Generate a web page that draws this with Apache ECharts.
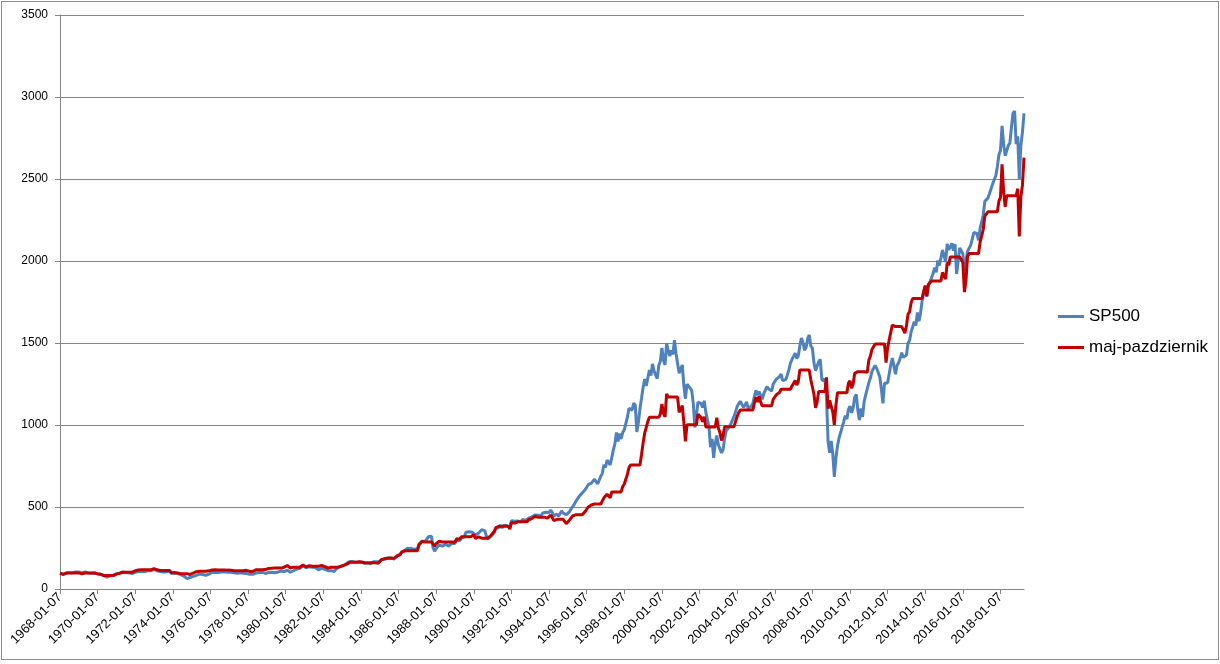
<!DOCTYPE html>
<html><head><meta charset="utf-8">
<script src="https://cdn.jsdelivr.net/npm/echarts@6/dist/echarts.min.js"></script>
<style>
html,body{margin:0;padding:0;background:#fff}
#c{width:1220px;height:664px}
#frame{position:absolute;left:1px;top:1px;width:1216px;height:657px;border:1px solid #8c8c8c;pointer-events:none}
</style>
</head><body>
<div id="c"></div><div id="frame"></div>
<script>
// Monthly samples (the 7th of each month), January 1968 to April 2019
const startYear = 1968;
const seriesNames = ['SP500', 'maj-pazdziernik'];

const sp500 = [
96.5,92.2,89.4,90.2,97.5,98.7,99.6,97.7,98.9,102.7,103.4,108.4,
103.9,103.0,98.1,101.5,103.7,103.5,97.7,91.8,95.5,93.1,97.2,93.8,
92.1,85.0,89.5,89.6,81.5,76.6,72.7,78.1,81.5,84.3,83.3,87.2,
92.2,95.9,97.0,100.3,103.9,99.6,99.7,95.6,99.0,98.3,94.2,94.0,
102.1,103.9,106.6,107.2,107.7,109.5,107.1,107.4,111.1,110.6,111.6,116.7,
118.1,116.0,111.7,111.5,107.0,105.0,104.3,108.2,104.3,108.4,108.3,96.0,
97.6,96.6,96.2,94.0,90.3,87.3,86.0,79.3,72.2,63.5,73.9,70.0,
68.6,77.0,81.6,83.4,87.3,91.2,95.2,88.8,86.9,83.9,89.0,91.2,
90.2,100.9,99.7,102.8,101.6,100.2,104.3,103.4,102.9,105.2,102.9,102.1,
107.5,102.0,99.8,98.4,98.4,96.1,100.5,98.9,96.8,96.5,92.3,94.8,
95.1,89.3,87.0,89.2,97.0,97.2,95.5,100.7,103.3,102.5,93.2,94.7,
96.1,99.9,96.3,101.6,101.8,99.1,102.9,103.8,109.3,109.3,101.8,106.2,
107.9,114.2,113.7,102.1,106.3,111.2,114.2,121.7,122.4,125.5,127.5,140.5,
135.8,129.6,131.3,136.0,132.8,132.6,131.2,130.9,122.8,116.2,121.9,126.4,
122.6,120.4,113.1,112.0,116.4,111.9,109.6,107.1,119.5,120.4,133.7,138.5,
140.6,145.3,148.1,153.0,164.4,162.4,168.1,162.6,164.4,166.1,163.6,166.4,
164.9,163.4,157.1,159.2,160.1,150.6,153.2,150.7,166.7,166.1,166.1,163.6,
167.2,179.6,181.2,180.7,179.8,189.6,191.9,190.9,188.6,182.1,189.8,202.2,
211.3,211.8,226.9,238.9,235.5,247.4,250.8,236.1,252.9,231.3,244.0,249.2,
242.2,274.1,284.2,291.7,288.4,290.1,304.0,318.7,329.8,321.8,251.8,230.3,
247.1,257.1,267.8,258.9,261.3,262.2,273.5,272.0,261.5,271.9,279.0,273.7,
277.7,297.5,288.9,294.9,309.6,320.5,318.0,346.1,351.5,349.2,340.4,346.0,
353.4,329.1,331.9,339.9,330.8,361.2,358.0,356.2,322.6,306.1,304.0,322.2,
330.2,343.9,367.1,375.2,375.4,389.8,371.2,387.8,395.4,387.9,392.5,375.2,
417.1,408.8,412.7,403.7,415.0,415.4,408.1,424.2,414.0,417.8,418.7,431.4,
435.7,438.8,443.4,451.7,440.2,450.2,450.5,448.1,463.6,458.9,467.8,461.8,
466.5,481.6,467.1,445.8,450.9,456.5,444.3,458.3,475.5,462.7,472.4,453.7,
459.3,470.4,487.4,500.7,514.7,533.4,544.8,562.1,561.9,584.4,581.5,605.4,
615.9,636.0,640.4,645.5,654.2,669.1,670.6,640.0,652.0,687.3,705.3,757.0,
740.7,786.2,790.8,757.1,801.3,848.3,885.1,954.3,899.5,947.3,914.6,955.4,
970.4,980.3,1049.3,1101.8,1111.8,1090.8,1133.8,1120.7,957.3,1017.0,1098.7,1163.6,
1229.2,1279.6,1238.3,1286.4,1335.2,1301.8,1372.7,1328.7,1320.4,1282.7,1362.9,1388.9,
1469.3,1394.5,1366.4,1498.6,1452.4,1420.6,1454.6,1430.8,1517.7,1436.5,1429.4,1315.2,
1320.3,1366.0,1239.9,1160.3,1249.5,1256.0,1224.4,1211.2,1133.6,985.0,1059.8,1139.5,
1148.1,1130.2,1106.7,1147.4,1076.9,1067.1,989.8,865.0,916.1,800.0,885.8,936.3,
879.8,855.7,830.0,848.2,916.9,963.6,974.5,990.3,1008.0,996.0,1050.7,1058.2,
1111.9,1131.1,1144.9,1126.2,1107.3,1120.7,1140.8,1101.7,1104.2,1114.6,1130.2,1173.8,
1211.9,1181.3,1203.6,1180.6,1156.9,1191.5,1191.3,1234.2,1220.3,1228.8,1207.0,1249.5,
1248.3,1280.1,1280.7,1294.9,1310.6,1270.1,1270.2,1276.7,1303.8,1335.9,1377.9,1400.6,
1418.3,1438.2,1406.8,1420.9,1482.4,1530.6,1503.4,1455.3,1474.0,1526.8,1549.4,1481.1,
1468.4,1378.6,1330.6,1322.7,1385.6,1400.4,1280.0,1267.4,1282.8,1166.4,900.0,830.0,
903.3,825.9,683.0,797.9,872.8,919.1,919.3,987.5,1020.6,1057.1,1036.2,1095.6,
1115.1,1073.9,1104.5,1169.4,1186.7,1089.4,1030.7,1101.6,1049.3,1141.2,1183.3,1180.6,
1257.6,1286.1,1327.2,1325.8,1363.6,1345.2,1320.6,1292.3,1218.9,1131.4,1253.3,1247.0,
1257.6,1312.4,1365.7,1408.5,1397.9,1310.3,1362.2,1379.3,1406.6,1440.7,1412.2,1416.2,
1426.2,1498.1,1514.7,1569.2,1597.6,1630.7,1606.3,1685.7,1633.0,1681.6,1756.5,1805.8,
1848.4,1782.6,1859.5,1872.3,1884.0,1923.6,1960.2,1930.7,2003.4,1972.3,2018.1,2067.6,
2058.9,1995.0,2104.5,2067.9,2085.5,2107.4,2063.1,2103.8,1921.0,1920.0,2079.4,2080.4,
2043.9,1940.2,1932.2,2059.7,2065.3,2097.0,2098.9,2173.6,2171.0,2168.3,2126.2,2198.8,
2238.8,2278.9,2363.6,2362.7,2384.2,2411.8,2423.4,2470.3,2471.7,2519.4,2575.3,2647.6,
2673.6,2823.8,2713.8,2640.9,2648.1,2705.3,2718.4,2816.3,2901.5,2914.0,2711.7,2760.2,
2500.0,2704.1,2784.5,2900.0
];

const majPazdziernik = [
96.5,92.2,89.4,90.2,97.5,97.5,97.5,97.5,97.5,97.5,97.5,102.2,
98.0,97.1,92.5,95.7,97.8,97.8,97.8,97.8,97.8,97.8,97.8,94.4,
92.7,85.5,90.1,90.2,82.0,82.0,82.0,82.0,82.0,82.0,82.0,85.8,
90.8,94.4,95.5,98.7,102.3,102.3,102.3,102.3,102.3,102.3,102.3,102.1,
110.9,112.8,115.8,116.4,117.0,117.0,117.0,117.0,117.0,117.0,117.0,122.3,
123.8,121.6,117.1,116.9,112.2,112.2,112.2,112.2,112.2,112.2,112.2,99.5,
101.1,100.1,99.7,97.4,93.6,93.6,93.6,93.6,93.6,93.6,93.6,88.7,
86.9,97.5,103.4,105.6,108.0,108.0,108.0,108.0,108.0,108.0,108.0,110.7,
109.5,116.0,114.5,117.5,116.0,116.0,116.0,116.0,116.0,116.0,116.0,115.1,
121.2,115.0,112.5,110.9,111.0,111.0,111.0,111.0,111.0,111.0,111.0,114.0,
114.4,107.4,104.6,107.3,116.7,116.7,116.7,116.7,116.7,116.7,116.7,118.6,
120.3,125.1,120.6,127.2,127.5,127.5,127.5,127.5,127.5,127.5,127.5,133.0,
135.1,143.0,142.4,127.9,133.1,133.1,133.1,133.1,133.1,133.1,133.1,146.7,
141.8,135.3,137.1,142.0,138.6,138.6,138.6,138.6,138.6,138.6,138.6,143.7,
139.4,136.9,128.6,127.3,132.4,132.4,132.4,132.4,132.4,132.4,132.4,137.2,
139.2,143.9,146.7,151.5,162.8,162.8,162.8,162.8,162.8,162.8,162.8,165.6,
164.1,162.6,156.3,158.4,159.3,159.3,159.3,159.3,159.3,159.3,159.3,156.9,
163.0,178.0,183.0,185.0,187.6,187.6,187.6,187.6,187.6,187.6,187.6,199.9,
208.9,209.3,224.3,236.1,232.8,232.8,232.8,232.8,232.8,232.8,232.8,238.0,
233.0,268.0,280.0,290.0,287.0,287.0,287.0,287.0,287.0,287.0,287.0,262.0,
276.0,284.0,292.0,284.0,287.0,287.0,287.0,287.0,287.0,287.0,287.0,281.5,
285.7,306.0,297.2,303.4,318.5,318.5,318.5,318.5,318.5,318.5,318.5,323.8,
330.7,307.9,310.5,318.0,309.5,309.5,309.5,309.5,309.5,309.5,309.5,328.0,
336.2,350.1,373.8,382.0,382.2,382.2,382.2,382.2,382.2,382.2,382.2,365.3,
406.2,398.1,401.9,393.1,410.0,410.0,410.0,410.0,410.0,410.0,410.0,422.4,
426.6,429.7,434.2,442.3,438.0,438.0,438.0,438.0,438.0,438.0,438.0,432.4,
436.8,450.9,437.3,417.4,425.0,425.0,425.0,425.0,425.0,425.0,425.0,398.0,
410.0,420.0,432.0,445.0,452.0,452.0,452.0,452.0,452.0,452.0,452.0,472.0,
482.0,500.0,506.0,512.0,518.0,518.0,518.0,518.0,518.0,518.0,518.0,556.0,
544.0,577.4,580.8,556.0,592.0,592.0,592.0,592.0,592.0,592.0,592.0,625.0,
640.0,650.0,700.0,740.0,756.0,756.0,756.0,756.0,756.0,756.0,756.0,820.0,
890.0,950.0,960.0,1020.0,1047.0,1047.0,1047.0,1047.0,1047.0,1047.0,1047.0,1067.0,
1128.8,1071.3,1049.7,1190.0,1170.0,1170.0,1170.0,1170.0,1170.0,1170.0,1170.0,1076.5,
1080.7,1118.1,1014.9,900.0,1002.0,1002.0,1002.0,1002.0,1002.0,1002.0,1002.0,1065.0,
1062.0,1045.0,1020.0,1050.0,988.0,988.0,988.0,988.0,988.0,988.0,988.0,1044.0,
981.3,954.4,905.0,935.0,990.0,990.0,990.0,990.0,990.0,990.0,990.0,997.0,
1052.0,1075.0,1092.0,1085.0,1091.0,1091.0,1091.0,1091.0,1091.0,1091.0,1091.0,1133.1,
1169.9,1140.3,1175.0,1139.7,1117.0,1117.0,1117.0,1117.0,1117.0,1117.0,1117.0,1156.3,
1155.2,1184.6,1185.2,1198.3,1218.0,1218.0,1218.0,1218.0,1218.0,1218.0,1218.0,1238.1,
1253.7,1271.3,1243.6,1265.0,1335.0,1335.0,1335.0,1335.0,1335.0,1335.0,1335.0,1276.1,
1265.2,1187.8,1105.0,1139.7,1205.0,1205.0,1205.0,1205.0,1205.0,1290.0,1100.0,1150.0,
1160.0,1080.0,1000.0,1120.0,1197.0,1197.0,1197.0,1197.0,1197.0,1197.0,1197.0,1255.0,
1270.0,1225.0,1250.0,1315.0,1325.0,1325.0,1325.0,1325.0,1325.0,1325.0,1325.0,1322.0,
1395.0,1420.0,1460.0,1460.0,1494.0,1494.0,1494.0,1494.0,1494.0,1494.0,1494.0,1380.0,
1470.0,1520.0,1565.0,1610.0,1600.0,1600.0,1600.0,1600.0,1600.0,1600.0,1600.0,1560.0,
1605.0,1675.0,1690.0,1745.0,1772.0,1772.0,1772.0,1772.0,1772.0,1772.0,1772.0,1815.0,
1850.0,1785.0,1855.0,1866.0,1878.0,1878.0,1878.0,1878.0,1878.0,1878.0,1878.0,1930.0,
1935.0,1890.0,1990.0,1975.0,2025.0,2025.0,2025.0,2025.0,2025.0,2025.0,2025.0,2026.0,
1990.0,1810.0,1882.0,2030.0,2045.0,2045.0,2045.0,2045.0,2045.0,2045.0,2045.0,2115.0,
2153.0,2192.0,2273.0,2273.0,2300.0,2300.0,2300.0,2300.0,2300.0,2300.0,2300.0,2365.0,
2388.0,2590.0,2424.0,2330.0,2398.0,2398.0,2398.0,2398.0,2398.0,2398.0,2398.0,2441.0,
2150.0,2391.0,2462.0,2630.0
];

const categories = [];
for (let i = 0; i < sp500.length; i++) {
  const y = startYear + Math.floor(i / 12);
  const m = (i % 12) + 1;
  categories.push(y + '-' + String(m).padStart(2, '0') + '-07');
}

const FONT = 'Liberation Sans, Arial, sans-serif';
const chart = echarts.init(document.getElementById('c'));
chart.setOption({
  animation: false,
  backgroundColor: '#fff',
  grid: { left: 60, right: 196, top: 15, bottom: 75 },
  legend: {
    orient: 'vertical', left: 1053, top: 303,
    itemWidth: 26, itemHeight: 3, itemGap: 14, icon: 'rect',
    textStyle: { fontSize: 17, fontFamily: FONT, color: '#000' },
    data: seriesNames
  },
  xAxis: {
    type: 'category', data: categories, boundaryGap: false,
    axisLine: { lineStyle: { color: '#868686' } },
    axisTick: { interval: 23, length: 5, lineStyle: { color: '#868686' } },
    axisLabel: { interval: 23, rotate: 45, fontSize: 13, fontFamily: FONT, color: '#000', margin: 6 },
    splitLine: { show: false }
  },
  yAxis: {
    type: 'value', min: 0, max: 3500, interval: 500,
    axisLine: { show: true, lineStyle: { color: '#868686' } },
    axisTick: { show: true, length: 5, lineStyle: { color: '#868686' } },
    axisLabel: { fontSize: 12, fontFamily: FONT, color: '#000', margin: 12,
      formatter: function (v) { return String(v); } },
    splitLine: { lineStyle: { color: '#868686', width: 1 } }
  },
  series: [
    { name: seriesNames[0], type: 'line', data: sp500, symbol: 'none', showSymbol: false,
      lineStyle: { color: '#4F81BD', width: 3 }, itemStyle: { color: '#4F81BD' } },
    { name: seriesNames[1], type: 'line', data: majPazdziernik, symbol: 'none', showSymbol: false,
      lineStyle: { color: '#C00000', width: 3 }, itemStyle: { color: '#C00000' } }
  ]
});
</script>
</body></html>
